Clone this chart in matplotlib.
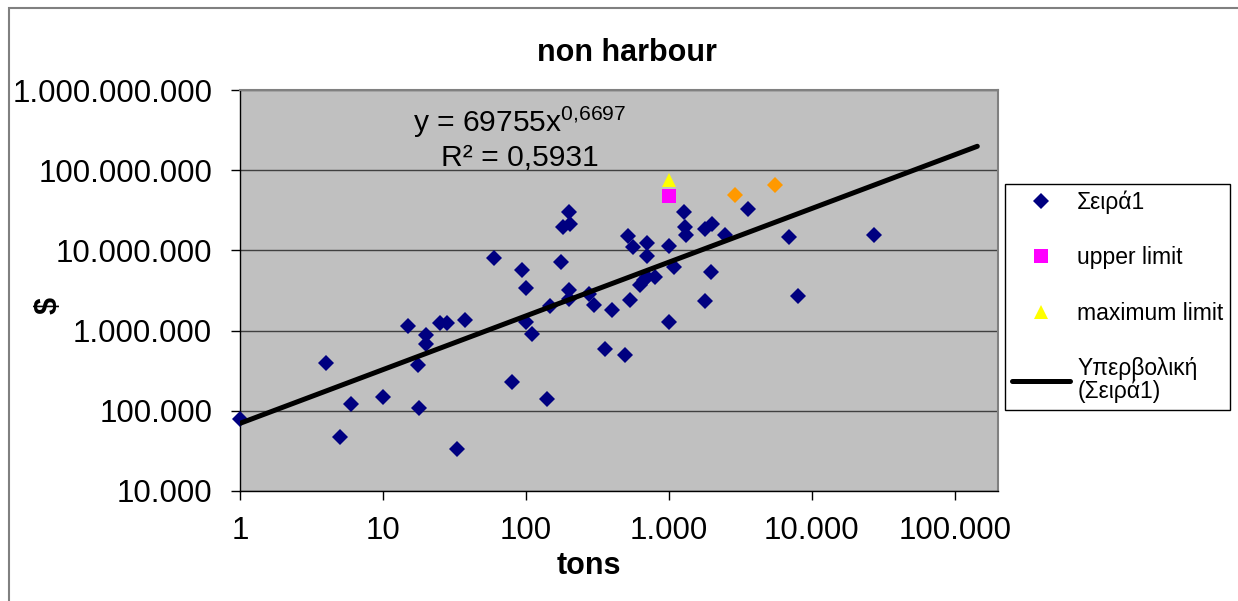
import matplotlib.pyplot as plt
import numpy as np
from matplotlib.patches import Rectangle
from matplotlib.ticker import FixedLocator, FuncFormatter, NullLocator

plt.rcParams['font.family'] = ['Liberation Sans', 'DejaVu Sans']
plt.rcParams['mathtext.fontset'] = 'custom'
plt.rcParams['mathtext.rm'] = 'Liberation Sans'
plt.rcParams['mathtext.default'] = 'regular'

# Σειρά1: tonnage vs cost
tons = [1, 4, 5, 6, 10, 15, 20, 20, 17.5, 18, 25, 28, 37.5, 33, 60, 94, 100, 100,
        110, 80, 140, 175, 199, 182, 202, 199, 199, 148, 275, 301, 401, 358, 497,
        515, 538, 559, 700, 700, 1000, 1270, 1307, 1328, 1803, 2010, 2490, 3590,
        6950, 27100, 8000, 1094, 1987, 1803, 1000, 633, 667, 705, 806]
cost = [78000, 400000, 47500, 121000, 150000, 1130000, 875000, 680000, 369000,
        107000, 1245000, 1245000, 1356000, 33600, 8110000, 5750000, 3370000,
        1270000, 900000, 231000, 140000, 7110000, 29900000, 19600000, 21500000,
        3240000, 2480000, 2050000, 2840000, 2080000, 1820000, 585000, 492000,
        15100000, 2390000, 10900000, 12300000, 8510000, 11400000, 29900000,
        19800000, 15400000, 18500000, 21100000, 15600000, 32500000, 14600000,
        15600000, 2720000, 6150000, 5380000, 2320000, 1290000, 3710000, 4280000,
        4630000, 4700000]

# extra points without a legend entry
extra_tons = [2900, 5490]
extra_cost = [49100000, 64800000]

upper_tons = [1000]
upper_cost = [48000000]
max_tons = [1000]
max_cost = [75000000]

# power trendline y = a * x^b
trend_a = 69755
trend_b = 0.6697
trend_r2 = 0.5931
trend_range = [1, 144000]

x_ticks = [1, 10, 100, 1000, 10000, 100000]
y_ticks = [1e4, 1e5, 1e6, 1e7, 1e8, 1e9]


def dotted(v, pos):
    return f"{int(round(v)):,}".replace(",", ".")


W, H = 1238, 601
fig = plt.figure(figsize=(W / 100, H / 100), dpi=100)
ax = fig.add_axes([240 / W, 1 - 491 / H, 757.7 / W, 401 / H])
ax.set_xscale('log')
ax.set_yscale('log')
ax.set_xlim(1, 2e5)
ax.set_ylim(1e4, 1e9)
ax.set_facecolor('#C0C0C0')

ax.xaxis.set_major_locator(FixedLocator(x_ticks))
ax.yaxis.set_major_locator(FixedLocator(y_ticks))
ax.xaxis.set_minor_locator(NullLocator())
ax.yaxis.set_minor_locator(NullLocator())
ax.xaxis.set_major_formatter(FuncFormatter(dotted))
ax.yaxis.set_major_formatter(FuncFormatter(dotted))
ax.tick_params(axis='both', which='major', direction='out', length=6.5, width=1,
               labelsize=22.5, color='black')
ax.tick_params(axis='y', pad=13.5)
ax.tick_params(axis='x', pad=11.5)

ax.grid(axis='y', which='major', color='#404040', lw=1)
ax.set_axisbelow(True)
for side in ('top', 'right'):
    ax.spines[side].set_color('#808080')
    ax.spines[side].set_linewidth(1.5)
for side in ('left', 'bottom'):
    ax.spines[side].set_color('black')
    ax.spines[side].set_linewidth(1)

ax.plot(tons, cost, 'D', color='#000080', ms=8, mew=0, label='Σειρά1',
        zorder=3, clip_on=False)
ax.plot(extra_tons, extra_cost, 'D', color='#FF9900', ms=8, mew=0,
        label='_nolegend_', zorder=3)
ax.plot(upper_tons, upper_cost, 's', color='#FF00FF', ms=10.5, mew=0,
        label='upper limit', zorder=3)
ax.plot(max_tons, max_cost, '^', color='#FFFF00', ms=10.5, mew=0,
        label='maximum limit', zorder=3)

xs = np.logspace(np.log10(trend_range[0]), np.log10(trend_range[1]), 200)
ax.plot(xs, trend_a * xs ** trend_b, color='black', lw=3.6,
        solid_capstyle='round', label='Υπερβολική\n(Σειρά1)', zorder=4)

fig.text(520 / W, 1 - 122 / H, 'y = 69755x$^{0{,}6697}$', fontsize=21.6,
         ha='center', va='center')
fig.text(520 / W, 1 - 158 / H, 'R² = 0,5931', fontsize=21.6,
         ha='center', va='center')

fig.text(627 / W, 1 - 53 / H, 'non harbour', fontsize=22, fontweight='bold',
         ha='center', va='center')
ax.set_xlabel('tons', fontsize=22, fontweight='bold')
ax.xaxis.set_label_coords((589 - 240) / 757.7, (491 - 566) / 401)
ax.xaxis.label.set_va('center')
ax.set_ylabel('$', fontsize=22, fontweight='bold')
ax.yaxis.set_label_coords((49 - 240) / 757.7, (491 - 305) / 401)
ax.yaxis.label.set_va('center')

leg = fig.legend(loc='upper left', bbox_to_anchor=(1005 / W, 1 - 184 / H),
                 frameon=True, fancybox=False, edgecolor='black', framealpha=1,
                 fontsize=16.5, labelspacing=1.4, handlelength=2.55,
                 handletextpad=0.3, borderpad=0.3, borderaxespad=0)
leg.get_frame().set_linewidth(1)
for t in leg.get_texts():
    t.set_linespacing(1.0)

fig.patches.append(Rectangle((9 / W, -0.1), 1.2, 1.1 - 8 / H,
                             transform=fig.transFigure, fill=False,
                             edgecolor='#808080', lw=1.5))

fig.savefig('out.png', dpi=100)
